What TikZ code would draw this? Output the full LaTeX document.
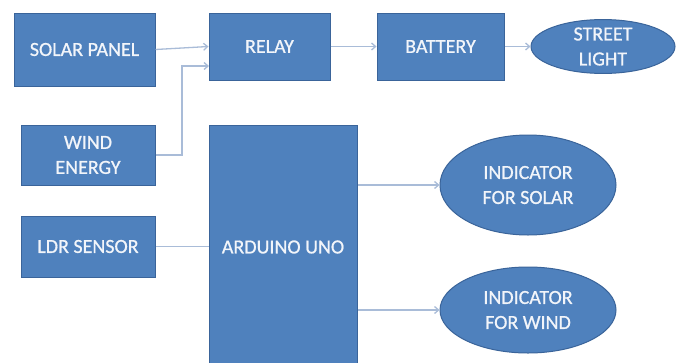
\documentclass[tikz,border=0pt]{standalone}
\usepackage{fontspec}
\setmainfont{Carlito}[FakeBold=0.8]
\newfontfamily\boxfont{Carlito}[AutoFakeBold=0.8]
\usetikzlibrary{arrows.meta,shapes.geometric}
\definecolor{boxfill}{HTML}{4F81BD}
\definecolor{boxline}{HTML}{3A649A}
\definecolor{wire}{HTML}{A9BCD8}
\definecolor{txtcol}{HTML}{F2F5FA}
\begin{document}
\begin{tikzpicture}[x=1pt,y=-1pt,
  blk/.style={draw=boxline,line width=1pt,fill=boxfill,text=txtcol,
    font=\boxfont\bfseries\fontsize{20}{25}\selectfont,align=center,inner sep=0pt},
  oval/.style={blk,ellipse},
  lbl/.style={text=txtcol,font=\boxfont\bfseries\fontsize{20}{25}\selectfont,align=center,inner sep=0pt},
  wirearrow/.style={draw=wire,line width=1.3pt,-{Straight Barb[length=4pt,width=7pt]}},
  wireplain/.style={draw=wire,line width=1.3pt}]
\useasboundingbox (0,0) rectangle (682,362);
\fill[white] (0,0) rectangle (682,362);
\node[blk,minimum width=141,minimum height=73] (solar) at (84.5,49.5) {SOLAR PANEL};
\node[blk,minimum width=121,minimum height=67] (relay) at (269.5,46.5) {RELAY};
\node[blk,minimum width=127,minimum height=67] (battery) at (440.5,46.5) {BATTERY};
\node[oval,minimum width=144,minimum height=52] (street) at (603,46.5) {STREET\\LIGHT};
\node[blk,minimum width=134,minimum height=60] (wind) at (88,155) {WIND\\ENERGY};
\node[blk,minimum width=134,minimum height=61] (ldr) at (88,246.5) {LDR SENSOR};
\node[blk,minimum width=148,minimum height=250,anchor=north west] (ard) at (209,125) {};
\node[lbl] (ardtxt) at (283,247) {ARDUINO UNO};
\node[oval,minimum width=176,minimum height=100] (indsolar) at (528,185) {INDICATOR\\FOR SOLAR};
\node[oval,minimum width=176,minimum height=86] (indwind) at (528,310) {INDICATOR\\FOR WIND};
\coordinate (bend1) at (182,155);
\coordinate (bend2) at (182,66);
\coordinate (relayin) at (209,66);
\draw[wirearrow] (solar.east) -- (relay.west);
\draw[wirearrow] (wind.east) -- (bend1) -- (bend2) -- (relayin);
\draw[wirearrow] (relay.east) -- (battery.west);
\draw[wirearrow] (battery.east) -- (street.west);
\draw[wireplain] (ldr.east) -- (ldr.east -| ard.west);
\draw[wirearrow] (ard.east |- indsolar.west) -- (indsolar.west);
\draw[wirearrow] (ard.east |- indwind.west) -- (indwind.west);
\end{tikzpicture}
\end{document}
